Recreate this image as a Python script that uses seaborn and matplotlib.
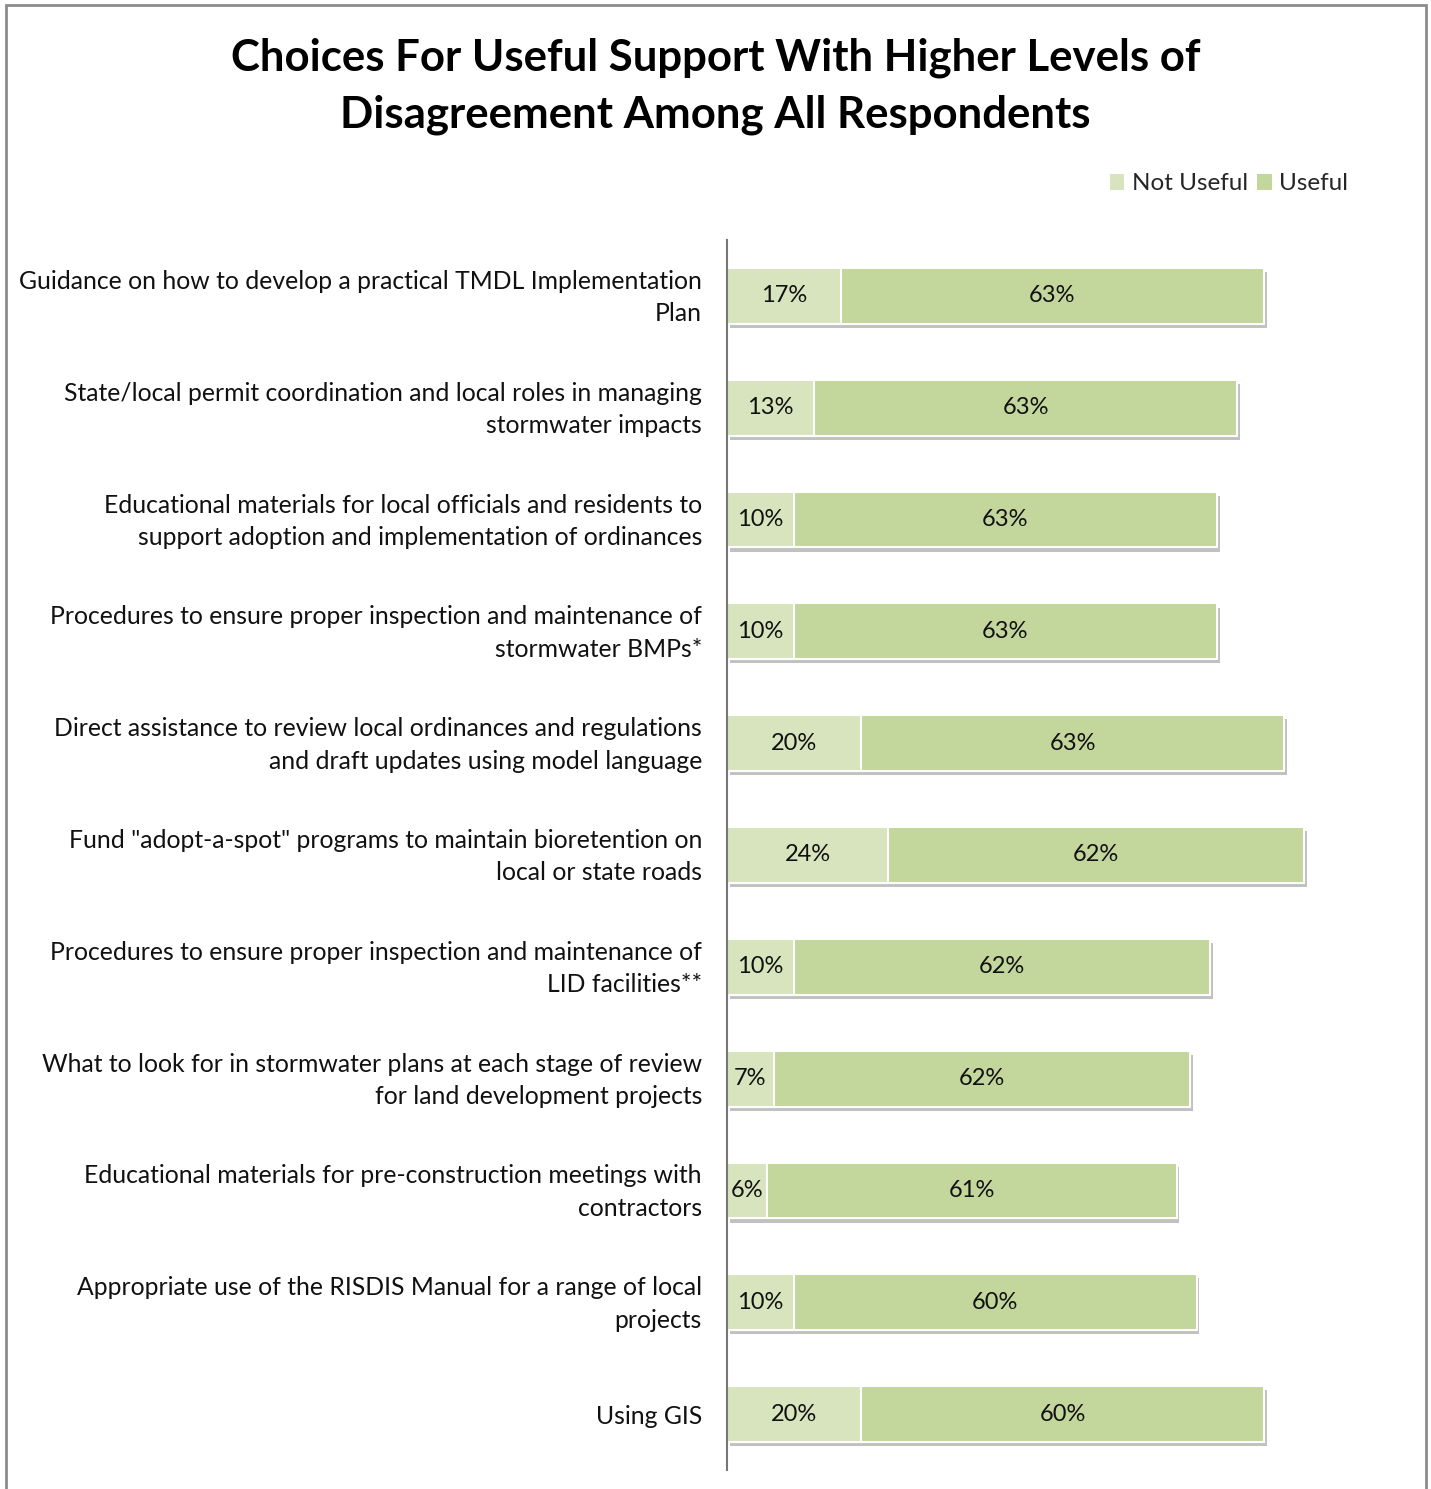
import matplotlib
matplotlib.use("Agg")
import matplotlib.pyplot as plt
import matplotlib.patheffects as pe
import matplotlib.transforms as mtransforms
from matplotlib.patches import Rectangle, Patch
import seaborn as sns
import pandas as pd

categories = [
    "Guidance on how to develop a practical TMDL Implementation\nPlan",
    "State/local permit coordination and local roles in managing\nstormwater impacts",
    "Educational materials for local officials and residents to\nsupport adoption and implementation of ordinances",
    "Procedures to ensure proper inspection and maintenance of\nstormwater BMPs*",
    "Direct assistance to review local ordinances and regulations\nand draft updates using model language",
    "Fund \"adopt-a-spot\" programs to maintain bioretention on\nlocal or state roads",
    "Procedures to ensure proper inspection and maintenance of\nLID facilities**",
    "What to look for in stormwater plans at each stage of review\nfor land development projects",
    "Educational materials for pre-construction meetings with\ncontractors",
    "Appropriate use of the RISDIS Manual for a range of local\nprojects",
    "Using GIS",
]
not_useful = [17, 13, 10, 10, 20, 24, 10, 7, 6, 10, 20]
useful = [63, 63, 63, 63, 63, 62, 62, 62, 61, 60, 60]
series_names = ["Not Useful", "Useful"]
title = "Choices For Useful Support With Higher Levels of\nDisagreement Among All Respondents"

c_not = "#D7E4BD"
c_use = "#C3D69B"

sns.set_theme(style="white")
plt.rcParams["font.family"] = ["Lato", "DejaVu Sans"]

df = pd.DataFrame({"cat": categories, "not": not_useful, "use": useful})
df["total"] = df["not"] + df["use"]

fig = plt.figure(figsize=(14.31, 14.89), dpi=100)
ax = fig.add_axes([727 / 1431, 1 - 1470 / 1489, (1398 - 727) / 1431, (1470 - 240) / 1489])

shadow = [pe.SimplePatchShadow(offset=(2, -3), shadow_rgbFace="#999999", alpha=0.6), pe.Normal()]
sns.barplot(data=df, y="cat", x="total", color=c_use, orient="h", width=0.5,
            edgecolor="white", linewidth=1.5, saturation=1, ax=ax)
for p in ax.patches:
    p.set_path_effects(shadow)
sns.barplot(data=df, y="cat", x="not", color=c_not, orient="h", width=0.5,
            edgecolor="white", linewidth=1.5, saturation=1, ax=ax)

for i, (a, b) in enumerate(zip(not_useful, useful)):
    ax.text(a / 2, i, f"{a}%", ha="center", va="center", fontsize=17, color="#111111")
    ax.text(a + b / 2, i, f"{b}%", ha="center", va="center", fontsize=17, color="#111111")

ax.set_xlim(0, 100)
ax.set_ylim(10.5, -0.5)
ax.set_xlabel("")
ax.set_ylabel("")
ax.set_xticks([])
ax.tick_params(axis="y", length=0, pad=18, labelsize=17.8, labelcolor="#111111")
shift = mtransforms.ScaledTranslation(0, 5 / 100, fig.dpi_scale_trans)
for lab in ax.get_yticklabels():
    lab.set_multialignment("right")
    lab.set_linespacing(1.5)
    if "\n" in lab.get_text():
        lab.set_transform(lab.get_transform() + shift)
for s in ["top", "right", "bottom"]:
    ax.spines[s].set_visible(False)
ax.spines["left"].set_color("#777777")
ax.spines["left"].set_linewidth(1.5)

fig.text(0.5, 1 - 86 / 1489, title, ha="center", va="center", fontsize=31.5,
         fontweight="bold", linespacing=1.5, color="#000000")

handles = [Patch(facecolor=c_not, edgecolor="none"), Patch(facecolor=c_use, edgecolor="none")]
fig.legend(handles, series_names, loc="center right", bbox_to_anchor=(1358 / 1431, 1 - 184 / 1489),
           ncol=2, frameon=False, fontsize=17.5, handlelength=0.6, handleheight=0.6,
           handletextpad=0.3, columnspacing=0.4, borderaxespad=0)

fig.patches.append(Rectangle((6 / 1431, -0.01), (1426 - 6) / 1431, 1 - 5 / 1489 + 0.01,
                             transform=fig.transFigure, fill=False, edgecolor="#8c8c8c",
                             linewidth=2))

fig.savefig("out.png", dpi=100)
